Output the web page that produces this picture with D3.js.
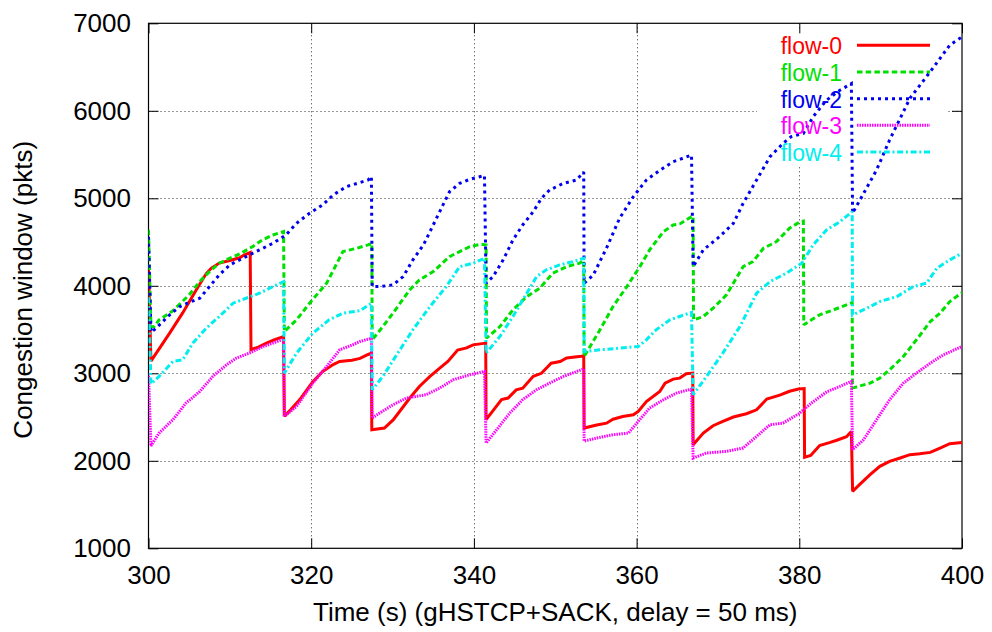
<!DOCTYPE html>
<html><head><meta charset="utf-8">
<script src="https://cdn.jsdelivr.net/npm/d3@7"></script>
<style>
body{margin:0;background:#fff}
svg{display:block}
text{font-family:"Liberation Sans",Arial,Helvetica,sans-serif;fill:#000}
</style>
</head><body>
<svg id="chart" width="992" height="632"></svg>
<script>
// ---- data (time in s, congestion window in pkts) ----
const xTicks = [300, 320, 340, 360, 380, 400];
const yTicks = [1000, 2000, 3000, 4000, 5000, 6000, 7000];
const flowNames = ["flow-0", "flow-1", "flow-2", "flow-3", "flow-4"];

const flow0 = [[300.0,4200],[300.3,3140],[302.6,3460],[304.2,3690],[306.1,3990],[307.1,4140],[307.7,4200],[308.7,4260],[310.0,4290],[311.2,4320],[311.8,4355],[312.5,4380],[312.6,3270],[313.5,3300],[314.5,3345],[315.5,3385],[316.6,3420],[316.7,2510],[317.5,2585],[318.6,2700],[320.2,2905],[321.4,3020],[322.7,3100],[323.5,3135],[325.0,3150],[326.0,3170],[327.0,3215],[327.4,3230],[327.45,2355],[329.0,2375],[330.1,2470],[332.1,2715],[333.3,2850],[334.6,2965],[335.8,3060],[336.8,3135],[338.0,3265],[339.1,3290],[339.9,3325],[341.45,3345],[341.5,2470],[343.4,2700],[344.2,2717],[345.2,2810],[346.0,2830],[347.3,2965],[348.3,3000],[349.5,3115],[350.6,3135],[351.4,3175],[353.2,3195],[353.5,3200],[353.55,2375],[355.1,2410],[356.3,2430],[357.1,2475],[358.3,2507],[359.6,2526],[360.2,2564],[361.2,2678],[362.85,2792],[363.5,2888],[364.5,2934],[365.3,2945],[366.1,2994],[366.9,3002],[366.95,2184],[368.2,2317],[369.4,2401],[370.6,2450],[371.9,2500],[373.5,2538],[374.75,2583],[376.0,2706],[377.6,2750],[378.8,2795],[379.9,2820],[380.6,2825],[380.65,2040],[381.4,2060],[382.5,2175],[383.8,2210],[384.6,2235],[385.8,2275],[386.4,2336],[386.55,1651],[387.4,1727],[388.7,1842],[389.9,1937],[391.1,1993],[392.4,2032],[393.6,2070],[394.8,2081],[396.1,2096],[397.3,2146],[398.5,2195],[400,2210]];

const flow1 = [[300.0,4640],[300.3,3530],[300.7,3534],[301.3,3611],[303.0,3715],[305.0,3896],[306.3,4050],[307.5,4162],[308.7,4258],[310.0,4315],[311.2,4364],[312.8,4448],[314.0,4524],[315.3,4581],[316.6,4620],[316.7,3477],[318.2,3611],[319.8,3801],[321.9,4030],[323.9,4391],[325.6,4429],[327.0,4467],[327.45,4486],[327.5,3383],[328.8,3534],[330.05,3687],[332.1,3953],[333.3,4067],[335.0,4162],[337.0,4333],[338.25,4391],[339.5,4448],[340.9,4475],[341.5,4467],[341.55,3402],[343.2,3534],[344.8,3725],[346.5,3877],[348.1,3973],[349.7,4144],[351.4,4219],[353.0,4258],[353.5,4290],[353.55,3192],[355.5,3497],[357.1,3763],[358.8,3991],[360.4,4219],[361.6,4410],[363.3,4619],[364.5,4695],[365.3,4707],[366.75,4790],[366.95,4795],[367.0,3611],[368.2,3649],[369.4,3744],[371.05,3896],[373.1,4219],[374.3,4276],[375.6,4429],[377.2,4505],[378.8,4658],[380.1,4733],[380.5,4740],[380.55,3554],[381.5,3611],[382.5,3668],[384.2,3725],[385.8,3782],[386.5,3808],[386.55,2831],[388.7,2888],[389.9,2945],[391.1,3040],[392.8,3192],[394.4,3383],[396.1,3592],[397.3,3687],[398.5,3820],[400,3922]];

const flow2 = [[300.0,4560],[300.3,3470],[300.7,3497],[301.35,3554],[302.6,3668],[303.8,3760],[305.0,3810],[306.3,3858],[307.5,3991],[308.7,4125],[310.0,4239],[311.2,4296],[312.4,4353],[313.65,4410],[315.3,4486],[316.9,4581],[318.2,4715],[319.8,4829],[321.4,4924],[322.7,5038],[324.3,5132],[326.0,5180],[327.0,5210],[327.4,5250],[327.5,3991],[328.4,3991],[330.05,4010],[331.3,4105],[332.5,4296],[333.8,4467],[335.0,4695],[336.2,4924],[337.0,5075],[338.25,5171],[339.5,5217],[341.3,5260],[341.5,4030],[342.35,4105],[343.6,4296],[344.8,4524],[346.0,4695],[347.3,4847],[348.3,5000],[349.3,5095],[351.0,5171],[352.6,5209],[353.5,5300],[353.55,4030],[354.65,4120],[356.3,4430],[357.9,4770],[359.6,5019],[361.2,5209],[362.9,5323],[364.5,5418],[366.75,5494],[366.95,4219],[368.2,4410],[370.2,4562],[371.9,4715],[373.1,4943],[374.75,5209],[376.4,5475],[378.0,5628],[379.0,5704],[380.5,5742],[381.7,5932],[383.35,6122],[385.0,6236],[386.4,6310],[386.55,4829],[389.5,5324],[391.1,5666],[393.6,6143],[396.1,6447],[398.5,6751],[400,6845]];

const flow3 = [[300.0,3000],[300.3,2170],[301.3,2317],[303.0,2469],[304.6,2659],[306.3,2792],[307.9,2964],[309.6,3097],[310.8,3174],[312.4,3231],[314.1,3306],[315.3,3345],[316.6,3390],[316.7,2507],[318.2,2621],[320.2,2888],[321.9,3078],[323.5,3268],[325.1,3326],[326.0,3364],[327.4,3400],[327.5,2489],[328.4,2545],[330.05,2640],[331.7,2717],[334.1,2755],[335.8,2831],[337.45,2926],[339.5,2983],[341.3,3021],[341.5,2203],[342.8,2355],[344.4,2545],[346.0,2698],[347.7,2812],[349.3,2888],[351.0,2964],[353.2,3040],[353.5,3050],[353.55,2225],[355.1,2260],[357.1,2298],[359.0,2317],[360.2,2450],[361.6,2602],[363.3,2698],[364.9,2774],[366.75,2820],[366.95,2032],[368.6,2089],[371.05,2108],[373.1,2146],[374.75,2279],[376.4,2412],[378.0,2431],[379.9,2535],[381.5,2660],[383.4,2790],[385.0,2850],[386.4,2907],[386.55,2127],[387.9,2241],[389.5,2469],[391.1,2698],[392.8,2888],[394.4,3002],[396.1,3116],[397.7,3211],[400,3306]];

const flow4 = [[300.0,3870],[300.3,2880],[301.3,2964],[303.0,3135],[304.2,3154],[305.45,3345],[307.1,3516],[308.7,3649],[310.4,3801],[312.0,3858],[313.65,3915],[315.3,3991],[316.6,4048],[316.7,3002],[318.2,3231],[320.2,3459],[322.2,3611],[323.9,3687],[325.95,3715],[327.4,3800],[327.5,2812],[328.8,2964],[330.9,3268],[332.5,3497],[334.6,3763],[336.6,3991],[338.25,4219],[339.9,4258],[341.3,4315],[341.5,3231],[343.2,3421],[344.8,3649],[346.5,3915],[347.7,4105],[348.9,4182],[350.55,4239],[352.2,4277],[353.5,4315],[353.55,3249],[355.5,3268],[357.9,3288],[360.2,3306],[361.2,3383],[362.4,3497],[364.1,3611],[366.75,3696],[366.95,2755],[368.6,2964],[370.6,3231],[372.7,3534],[374.75,3915],[376.4,4048],[378.4,4144],[380.3,4258],[381.7,4467],[383.35,4638],[385.0,4733],[386.5,4847],[386.55,3668],[388.3,3744],[389.9,3820],[392.0,3877],[394.0,3991],[395.65,4030],[396.9,4201],[398.5,4296],[400,4372]];

const flows = [flow0, flow1, flow2, flow3, flow4];

// ---- styles ----
const colors = ["#ff0000", "#00e000", "#0000f0", "#ff00ff", "#00eeee"];
const dashes = [null, "5.5,3.2", "3,4", "1.5,1", "6,2.7,2,2.7"];
const widths = [3, 3, 3, 3, 3];

const W = 992, H = 632;
const M = {left: 148.5, right: 30, top: 23.3, bottom: 83.7};
const svg = d3.select("#chart");

const x = d3.scaleLinear().domain([300, 400]).range([M.left, W - M.right]);
const y = d3.scaleLinear().domain([1000, 7000]).range([H - M.bottom, M.top]);

// grid
const grid = svg.append("g").attr("stroke", "#333").attr("stroke-width", 1)
  .attr("stroke-dasharray", "1,3").attr("fill", "none");
grid.selectAll("line.gx").data(xTicks.slice(1, -1)).join("line")
  .attr("x1", d => Math.round(x(d)) + 0.5).attr("x2", d => Math.round(x(d)) + 0.5)
  .attr("y1", y(1000)).attr("y2", y(7000));
grid.selectAll("line.gy").data(yTicks.slice(1, -1)).join("line")
  .attr("y1", d => Math.round(y(d)) + 0.5).attr("y2", d => Math.round(y(d)) + 0.5)
  .attr("x1", x(300)).attr("x2", x(400));

// legend background (opaque key box hides grid)
svg.append("rect").attr("x", 757).attr("y", 31).attr("width", 189).attr("height", 135)
  .attr("fill", "#fff");

// axes
const fs = "26px";
const legendFs = "23px";
const fmt = d3.format("d");
const axB = svg.append("g").attr("transform", `translate(0,${y(1000)})`)
  .call(d3.axisBottom(x).tickValues(xTicks).tickFormat(fmt).tickSizeInner(-10).tickSizeOuter(0).tickPadding(17.5));
const axL = svg.append("g").attr("transform", `translate(${x(300)},0)`)
  .call(d3.axisLeft(y).tickValues(yTicks).tickFormat(fmt).tickSizeInner(-10).tickSizeOuter(0).tickPadding(17.5));
const axT = svg.append("g").attr("transform", `translate(0,${y(7000)})`)
  .call(d3.axisTop(x).tickValues(xTicks).tickSizeInner(-10).tickSizeOuter(0).tickFormat(""));
const axR = svg.append("g").attr("transform", `translate(${x(400)},0)`)
  .call(d3.axisRight(y).tickValues(yTicks).tickSizeInner(-10).tickSizeOuter(0).tickFormat(""));
[axB, axL, axT, axR].forEach(a => {
  a.select(".domain").remove();
  a.selectAll("line").attr("stroke", "#000").attr("stroke-width", 1);
  a.selectAll("text").attr("font-size", fs).attr("font-family", '"Liberation Sans",Arial,sans-serif').attr("fill", "#000");
});

// frame
svg.append("rect").attr("x", x(300)).attr("y", y(7000))
  .attr("width", x(400) - x(300)).attr("height", y(1000) - y(7000))
  .attr("fill", "none").attr("stroke", "#000").attr("stroke-width", 1.2);

// titles
svg.append("text").attr("x", (x(300) + x(400)) / 2).attr("y", 621)
  .attr("text-anchor", "middle").attr("font-size", fs)
  .text("Time (s) (gHSTCP+SACK, delay = 50 ms)");
svg.append("text").attr("transform", `translate(32,${(y(1000) + y(7000)) / 2 + 4}) rotate(-90)`)
  .attr("text-anchor", "middle").attr("font-size", fs)
  .text("Congestion window (pkts)");

// clip
svg.append("clipPath").attr("id", "plotclip").append("rect")
  .attr("x", x(300)).attr("y", y(7000)).attr("width", x(400) - x(300)).attr("height", y(1000) - y(7000));

const line = d3.line().x(d => x(d[0])).y(d => y(d[1]));
const rowY = [45.3, 72, 98.7, 125.3, 152];

flows.forEach((f, i) => {
  // legend entry
  svg.append("text").attr("x", 842).attr("y", rowY[i] + 9).attr("text-anchor", "end")
    .attr("font-size", legendFs).style("fill", colors[i]).text(flowNames[i]);
  svg.append("line").attr("x1", 857).attr("x2", 930).attr("y1", rowY[i]).attr("y2", rowY[i])
    .attr("stroke", colors[i]).attr("stroke-width", widths[i])
    .attr("stroke-dasharray", dashes[i]);
  // data
  svg.append("path").datum(f).attr("clip-path", "url(#plotclip)")
    .attr("d", line).attr("fill", "none").attr("stroke", colors[i])
    .attr("stroke-width", widths[i]).attr("stroke-dasharray", dashes[i])
    .attr("stroke-linejoin", "miter").attr("stroke-miterlimit", 2);
});
</script>
</body></html>
